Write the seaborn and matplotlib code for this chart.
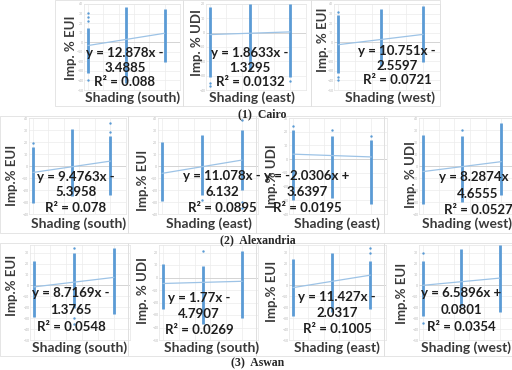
import matplotlib
matplotlib.use('Agg')
import matplotlib.pyplot as plt
import seaborn as sns
import pandas as pd
from matplotlib.patches import Rectangle

sns.set_style('whitegrid')
plt.rcParams['font.family'] = ['Lato', 'DejaVu Sans']

W, H = 512, 370
BLUE = '#5b9bd5'
TREND = '#9dc3e6'

# shading levels of the three strips
shading = [0.0, 0.5, 1.0]

# ---- data (strip low / high ends, loose dots, fit) ----
cairo_s_lo = [-32, -43, -21]
cairo_s_hi = [15, 37, 35]
cairo_s_dx = [0, 0, 0, 0]
cairo_s_dy = [31, 26, 22, -40]
cairo_s_fit = (12.878, -3.4885)
cairo_s_eq = ['y = 12.878x -', '3.4885', 'R² = 0.088']

cairo_e_lo = [-31, -26, -31]
cairo_e_hi = [18, 20, 20]
cairo_e_dx = [0, 0, 1.0]
cairo_e_dy = [-35, -37, -34]
cairo_e_fit = (1.8633, -1.3295)
cairo_e_eq = ['y = 1.8633x -', '1.3295', 'R² = 0.0132']

cairo_w_lo = [-32, -25, -21]
cairo_w_hi = [29, 35, 38]
cairo_w_dx = [0, 0, 0]
cairo_w_dy = [-36, -40, 32]
cairo_w_fit = (10.751, -2.5597)
cairo_w_eq = ['y = 10.751x -', '2.5597', 'R² = 0.0721']

alex_s_lo = [-31, -25, -24]
alex_s_hi = [16, 31, 25]
alex_s_dx = [0, 1.0, 1.0]
alex_s_dy = [19, 36, 28]
alex_s_fit = (9.4763, -5.3958)
alex_s_eq = ['y = 9.4763x -', '5.3958', 'R² = 0.078']

alex_e_lo = [-29, -24, -20]
alex_e_hi = [20, 26, 30]
alex_e_dx = [0.5, 1.0, 1.0, 1.0]
alex_e_dy = [-28, 38, -30, -35]
alex_e_fit = (11.078, -6.132)
alex_e_eq = ['y = 11.078x -', '6.132', 'R² = 0.0895']

alex_eu_lo = [-30, -28, -33]
alex_eu_hi = [21, 17, 14]
alex_eu_dx = [0, 0.5, 1.0]
alex_eu_dy = [24, 21, 17]
alex_eu_fit = (-2.0306, 3.6397)
alex_eu_eq = ['y = -2.0306x +', '3.6397', 'R² = 0.0195']

alex_w_lo = [-32, -30, -24]
alex_w_hi = [26, 25, 36]
alex_w_dx = [0.5]
alex_w_dy = [30]
alex_w_fit = (8.2874, -4.6555)
alex_w_eq = ['y = 8.2874x -', '4.6555', 'R² = 0.0527']

aswan_s_lo = [-29, -21, -26]
aswan_s_hi = [22, 30, 34]
aswan_s_dx = [0.5, 0.5, 0.5]
aswan_s_dy = [34, -30, -35]
aswan_s_fit = (8.7169, -1.3765)
aswan_s_eq = ['y = 8.7169x -', '1.3765', 'R² = 0.0548']

aswan_su_lo = [-25, -37, -32]
aswan_su_hi = [11, 9, 21]
aswan_su_dx = [0.5]
aswan_su_dy = [21]
aswan_su_fit = (1.77, -4.7907)
aswan_su_eq = ['y = 1.77x -', '4.7907', 'R² = 0.0269']

aswan_e_lo = [-28, -24, -22]
aswan_e_hi = [24, 30, 22]
aswan_e_dx = [1.0, 1.0]
aswan_e_dy = [30, 34]
aswan_e_fit = (11.427, -2.0317)
aswan_e_eq = ['y = 11.427x -', '2.0317', 'R² = 0.1005']

aswan_w_lo = [-28, -19, -24]
aswan_w_hi = [22, 33, 37]
aswan_w_dx = [0, 0]
aswan_w_dy = [30, -34]
aswan_w_fit = (6.5896, 0.0801)
aswan_w_eq = ['y = 6.5896x +', '0.0801', 'R² = 0.0354']

captions = ['(1)  Cairo', '(2)  Alexandria', '(3)  Aswan']

# ---- layout (pixels): plot box, y range, label and equation anchors ----
panels = [
    dict(lo=cairo_s_lo, hi=cairo_s_hi, dx=cairo_s_dx, dy=cairo_s_dy, fit=cairo_s_fit, eq=cairo_s_eq,
         yl='Imp. % EUI', xl='Shading (south)', box=(84, 4, 180, 90), ylim=(-50, 40),
         ylab=(71, 48), xlab=(133, 98), eqxy=(125, 53, 14.5)),
    dict(lo=cairo_e_lo, hi=cairo_e_hi, dx=cairo_e_dx, dy=cairo_e_dy, fit=cairo_e_fit, eq=cairo_e_eq,
         yl='Imp. % UDI', xl='Shading (east)', box=(206, 4, 306, 90), ylim=(-40, 20),
         ylab=(197, 43), xlab=(252, 98), eqxy=(250, 53, 14.5)),
    dict(lo=cairo_w_lo, hi=cairo_w_hi, dx=cairo_w_dx, dy=cairo_w_dy, fit=cairo_w_fit, eq=cairo_w_eq,
         yl='Imp. % EUI', xl='Shading (west)', box=(334, 4, 440, 90), ylim=(-50, 40),
         ylab=(323, 40), xlab=(390, 98), eqxy=(397, 51, 14.5)),
    dict(lo=alex_s_lo, hi=alex_s_hi, dx=alex_s_dx, dy=alex_s_dy, fit=alex_s_fit, eq=alex_s_eq,
         yl='Imp.% EUI', xl='Shading (south)', box=(29, 118, 126, 214), ylim=(-40, 40),
         ylab=(12, 175), xlab=(79, 224), eqxy=(76, 177, 15.5)),
    dict(lo=alex_e_lo, hi=alex_e_hi, dx=alex_e_dx, dy=alex_e_dy, fit=alex_e_fit, eq=alex_e_eq,
         yl='Imp.% EUI', xl='Shading (east)', box=(158, 118, 258, 214), ylim=(-40, 40),
         ylab=(143, 180), xlab=(209, 224), eqxy=(222, 176, 16)),
    dict(lo=alex_eu_lo, hi=alex_eu_hi, dx=alex_eu_dx, dy=alex_eu_dy, fit=alex_eu_fit, eq=alex_eu_eq,
         yl='Imp.% UDI', xl='Shading (east)', box=(289, 118, 387, 214), ylim=(-40, 30),
         ylab=(272, 176), xlab=(337, 224), eqxy=(307, 176, 16)),
    dict(lo=alex_w_lo, hi=alex_w_hi, dx=alex_w_dx, dy=alex_w_dy, fit=alex_w_fit, eq=alex_w_eq,
         yl='Imp. % UDI', xl='Shading (west)', box=(419, 118, 517, 214), ylim=(-40, 40),
         ylab=(411, 174), xlab=(467, 224), eqxy=(478, 177, 16.5)),
    dict(lo=aswan_s_lo, hi=aswan_s_hi, dx=aswan_s_dx, dy=aswan_s_dy, fit=aswan_s_fit, eq=aswan_s_eq,
         yl='Imp.% EUI', xl='Shading (south)', box=(30, 245, 130, 340), ylim=(-50, 37),
         ylab=(12, 285), xlab=(80, 348), eqxy=(71, 293, 17)),
    dict(lo=aswan_su_lo, hi=aswan_su_hi, dx=aswan_su_dx, dy=aswan_su_dy, fit=aswan_su_fit, eq=aswan_su_eq,
         yl='Imp. % UDI', xl='Shading (south)', box=(159, 245, 258, 340), ylim=(-48, 26),
         ylab=(143, 290), xlab=(212, 348), eqxy=(199, 298, 16)),
    dict(lo=aswan_e_lo, hi=aswan_e_hi, dx=aswan_e_dx, dy=aswan_e_dy, fit=aswan_e_fit, eq=aswan_e_eq,
         yl='Imp.% EUI', xl='Shading (east)', box=(289, 245, 386, 340), ylim=(-50, 37),
         ylab=(272, 291), xlab=(337, 348), eqxy=(337, 297, 16)),
    dict(lo=aswan_w_lo, hi=aswan_w_hi, dx=aswan_w_dx, dy=aswan_w_dy, fit=aswan_w_fit, eq=aswan_w_eq,
         yl='Imp.% EUI', xl='Shading (west)', box=(419, 245, 515, 340), ylim=(-50, 37),
         ylab=(402, 293), xlab=(466, 348), eqxy=(461, 293, 17)),
]

# chart-area frames (Excel style), pixels: left, top, right, bottom
frames = [(55, 0, 183, 106), (183, 0, 311, 106), (311, 0, 440, 106),
          (0, 116, 128, 233), (128, 116, 256, 233), (256, 116, 384, 233), (384, 116, 512, 233),
          (0, 243, 128, 356), (128, 243, 256, 356), (256, 243, 384, 356), (384, 243, 512, 356)]
caption_pos = [(262, 114), (258, 240), (258, 363)]


def fx(px):
    return px / W


def fy(py):
    return 1 - py / H


def draw_panel(fig, p):
    l, t, r, b = p['box']
    ax = fig.add_axes([fx(l), fy(b), (r - l) / W, (b - t) / H])
    ax.vlines(shading, p['lo'], p['hi'], color=BLUE, lw=2.0, zorder=3)
    sns.scatterplot(x=p['dx'], y=p['dy'], ax=ax, color=BLUE, s=3, linewidth=0, zorder=3)
    slope, icpt = p['fit']
    fit = pd.DataFrame({'x': [0.0, 1.0], 'y': [icpt, slope + icpt]})
    sns.lineplot(data=fit, x='x', y='y', ax=ax, color=TREND, lw=0.9, zorder=4)
    ax.axhline(0, color='#d0d0d0', lw=0.6, zorder=1)

    ax.set_xlim(-0.05, 1.2)
    ax.set_ylim(*p['ylim'])
    ax.set_xticks([0, 0.2, 0.4, 0.6, 0.8, 1.0, 1.2])
    ax.set_xticklabels([])
    lo_t = int(p['ylim'][0] // 10 * 10)
    ax.set_yticks(list(range(lo_t, int(p['ylim'][1]) + 1, 10)))
    ax.tick_params(axis='y', labelsize=2.5, colors='#b8b8b8', pad=0.5, length=0)
    ax.tick_params(axis='x', length=0)
    ax.grid(True, color='#ececec', lw=0.5)
    for s in ax.spines.values():
        s.set_color('#e4e4e4')
        s.set_linewidth(0.5)
    ax.set_xlabel('')
    ax.set_ylabel('')
    ax.patch.set_alpha(0)

    x0, y0 = p['ylab']
    fig.text(fx(x0), fy(y0), p['yl'], rotation=90, ha='center', va='center',
             fontsize=9.5, fontweight='bold', color='#3a3a3a')
    x0, y0 = p['xlab']
    fig.text(fx(x0), fy(y0), p['xl'], ha='center', va='center',
             fontsize=10, fontweight='bold', color='#3a3a3a')
    ex, ey, step = p['eqxy']
    for i, line in enumerate(p['eq']):
        fig.text(fx(ex), fy(ey + i * step), line, ha='center', va='center',
                 fontsize=9.5, fontweight='bold', color='#1e1e1e', zorder=10)


def main():
    fig = plt.figure(figsize=(W / 100, H / 100), dpi=100)
    for l, t, r, b in frames:
        fig.add_artist(Rectangle((fx(l), fy(b)), (r - l) / W, (b - t) / H,
                                 transform=fig.transFigure, fill=False,
                                 edgecolor='#e0e0e0', lw=0.6))
    for p in panels:
        draw_panel(fig, p)
    for txt, (cx, cy) in zip(captions, caption_pos):
        fig.text(fx(cx), fy(cy), txt, ha='center', va='center', fontsize=8.5,
                 fontweight='bold', family=['Liberation Serif', 'DejaVu Serif'])
    fig.savefig('out.png', dpi=100)


if __name__ == '__main__':
    main()
